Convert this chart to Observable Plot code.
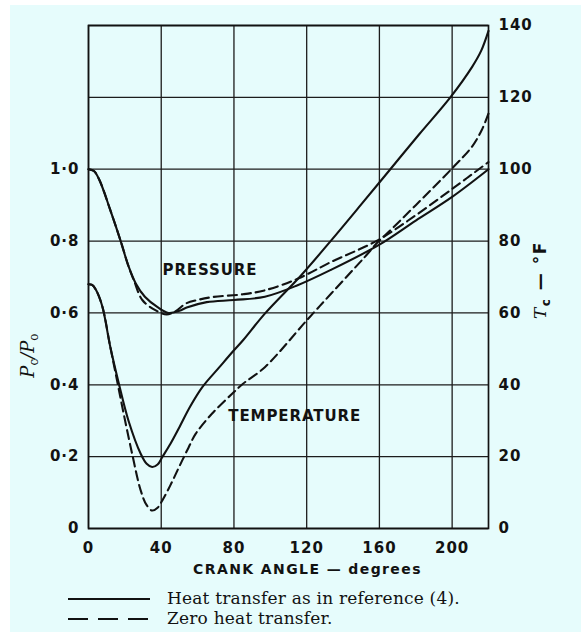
<!DOCTYPE html>
<html><head><meta charset="utf-8">
<script src="https://cdn.jsdelivr.net/npm/d3@7"></script>
<script src="https://cdn.jsdelivr.net/npm/@observablehq/plot@0.6"></script>
<style>
html,body{margin:0;padding:0;background:#ffffff;}
#page{position:absolute;left:10px;top:5px;width:571px;height:627px;background:#e6fcfc;overflow:hidden;}
#legend{position:absolute;left:0;top:580px;}
</style></head>
<body><div id="page"></div>
<script>
// Crank angle ticks (degrees)
const xTicks = [0, 40, 80, 120, 160, 200];
// Left axis: pressure ratio Pc/Po
const leftTicks = [0, 0.2, 0.4, 0.6, 0.8, 1.0];
// Right axis: temperature Tc, °F
const rightTicks = [0, 20, 40, 60, 80, 100, 120, 140];

// PRESSURE — heat transfer as in reference (4)
const pAngHeat = [0, 3, 6, 12, 17.7, 22, 26, 31, 38, 44, 50, 54, 65, 80, 97, 115, 133, 160, 180, 200, 220];
const pHeat    = [1.0, 0.995, 0.97, 0.886, 0.80, 0.73, 0.682, 0.645, 0.616, 0.600, 0.606, 0.615, 0.630, 0.636, 0.645, 0.677, 0.719, 0.790, 0.857, 0.923, 1.0];
// PRESSURE — zero heat transfer
const pAngZero = [0, 3, 6, 12, 17.7, 22, 25, 29.6, 37, 43, 48, 53.5, 60, 68, 85, 97, 115, 133.5, 159, 180, 200, 220];
const pZero    = [1.0, 0.995, 0.97, 0.886, 0.80, 0.73, 0.69, 0.636, 0.607, 0.596, 0.605, 0.626, 0.636, 0.644, 0.652, 0.663, 0.695, 0.742, 0.802, 0.872, 0.945, 1.02];

// TEMPERATURE — heat transfer as in reference (4), °F
const tAngHeat = [0, 2, 4, 7.5, 12, 16.7, 22, 28.7, 32, 35, 38, 40.6, 45, 50, 56, 62.7, 72, 80, 85, 97, 117, 133.5, 150, 166, 182, 199, 211, 216, 220];
const tHeat    = [68, 67.8, 66.5, 62, 50.5, 40.3, 30, 20.8, 18, 17.1, 17.8, 19.9, 23.5, 28.2, 34, 39.4, 44.9, 49.6, 52.4, 59.8, 70.5, 80.2, 90.2, 100, 109.8, 120, 128.5, 133, 138.5];
// TEMPERATURE — zero heat transfer, °F
const tAngZero = [0, 2, 4, 7.5, 12, 15, 18.6, 24, 28.7, 32, 35, 38, 40.6, 45, 49.8, 55, 59, 68, 79, 85, 97, 120, 133.5, 152, 159.3, 165, 180, 200.7, 210.8, 216.3, 220];
const tZero    = [68, 67.8, 66.5, 62, 50.5, 43, 33.8, 20.8, 10.6, 6.5, 5.0, 5.8, 7.8, 12, 17.1, 22.5, 26.4, 32, 37.5, 40.3, 44.9, 57.9, 65.4, 75.6, 79.8, 82.5, 90, 100.6, 106.2, 110.9, 115.5];

// Common vertical scale: right-axis units (°F); pressure ratio × 100 shares it
const rows = [
  ...pAngHeat.map((a, i) => ({angle: a, v: pHeat[i] * 100, q: "pressure", c: "heat"})),
  ...pAngZero.map((a, i) => ({angle: a, v: pZero[i] * 100, q: "pressure", c: "zero"})),
  ...tAngHeat.map((a, i) => ({angle: a, v: tHeat[i], q: "temperature", c: "heat"})),
  ...tAngZero.map((a, i) => ({angle: a, v: tZero[i], q: "temperature", c: "zero"}))
];

const ink = "#121212";
const tickFont = {fontFamily: "DejaVu Sans", fontSize: 15, fontWeight: "bold"};

const plot = Plot.plot({
  width: 571, height: 580,
  marginLeft: 78, marginRight: 93, marginTop: 20, marginBottom: 57,
  style: {background: "transparent", color: ink, fontFamily: "DejaVu Sans", fontSize: "15px", letterSpacing: "1px"},
  x: {domain: [0, 220]},
  y: {domain: [0, 140]},
  marks: [
    Plot.ruleX(xTicks, {stroke: "#1c1c1c", strokeWidth: 1.3}),
    Plot.ruleY(rightTicks, {stroke: "#1c1c1c", strokeWidth: 1.3}),
    Plot.frame({stroke: ink, strokeWidth: 1.7}),
    Plot.axisX(xTicks, {tickSize: 0, tickPadding: 14, label: null, ...tickFont}),
    Plot.axisY(leftTicks.map(d => d * 100), {anchor: "left", tickSize: 0, tickPadding: 9, label: null,
      tickFormat: d => d === 0 ? "0" : (d / 100).toFixed(1).replace(".", "·"), ...tickFont}),
    Plot.axisY(rightTicks, {anchor: "right", tickSize: 0, tickPadding: 10, label: null, ...tickFont}),
    Plot.line(rows.filter(d => d.c === "heat"), {x: "angle", y: "v", z: "q", stroke: ink, strokeWidth: 2.1, curve: "catmull-rom"}),
    Plot.line(rows.filter(d => d.c === "zero"), {x: "angle", y: "v", z: "q", stroke: ink, strokeWidth: 2.1, strokeDasharray: "9,5", curve: "catmull-rom"}),
    Plot.text(["PRESSURE"], {x: 66.8, y: 71.9, fontSize: 15, fontWeight: "bold", fill: ink}),
    Plot.text(["TEMPERATURE"], {x: 113.4, y: 31.2, fontSize: 15, fontWeight: "bold", fill: ink}),
    Plot.text(["CRANK ANGLE — degrees"], {frameAnchor: "bottom", dx: 19, dy: 45, fontSize: 14, fontWeight: "bold", fill: ink})
  ]
});

const svg = d3.select(plot);
svg.selectAll("text").filter(function() { return /PRESSURE|TEMPERATURE/.test(this.textContent); })
  .style("letter-spacing", "0.9px");
svg.selectAll("text").filter(function() { return /CRANK/.test(this.textContent); })
  .style("letter-spacing", "1.4px");

const sx = plot.scale("x"), sy = plot.scale("y");
// left axis title Pc/Po
const lt = svg.append("text")
  .attr("transform", `translate(${sx.apply(0) - 54},${sy.apply(48)}) rotate(-90)`)
  .attr("text-anchor", "middle").attr("font-family", "DejaVu Serif").attr("font-size", 18)
  .attr("font-style", "italic").attr("fill", ink).style("letter-spacing", "0px");
lt.append("tspan").text("P");
lt.append("tspan").attr("dy", 4).attr("font-size", 12).attr("font-style", "normal").text("c");
lt.append("tspan").attr("dy", -4).text("/P");
lt.append("tspan").attr("dy", 4).attr("font-size", 12).attr("font-style", "normal").text("o");
// right axis title Tc — °F
const rt = svg.append("text")
  .attr("transform", `translate(${sx.apply(220) + 58},${sy.apply(69)}) rotate(-90)`)
  .attr("text-anchor", "middle").attr("font-family", "DejaVu Sans").attr("font-size", 17)
  .attr("font-weight", "bold").attr("fill", ink).style("letter-spacing", "1.5px");
rt.append("tspan").attr("font-style", "italic").attr("font-family", "DejaVu Serif").attr("font-weight", "normal").text("T");
rt.append("tspan").attr("dy", 4).attr("font-size", 12).text("c");
rt.append("tspan").attr("dy", -4).text(" — °F");

document.getElementById("page").appendChild(plot);

// Legend below the chart
const legendItems = [
  {label: "Heat transfer as in reference (4).", dash: null},
  {label: "Zero heat transfer.", dash: "20,10"}
];
const lg = d3.select("#page").append("svg").attr("id", "legend").attr("width", 571).attr("height", 47);
legendItems.forEach((it, i) => {
  const y = 14 + i * 20;
  lg.append("line").attr("x1", 58).attr("x2", 140).attr("y1", y).attr("y2", y)
    .attr("stroke", ink).attr("stroke-width", 1.8).attr("stroke-dasharray", it.dash);
  lg.append("text").attr("x", 157).attr("y", y + 4.5).attr("font-family", "DejaVu Serif")
    .attr("font-size", 17).attr("fill", ink).style("letter-spacing", "0.2px").text(it.label);
});
</script>
</body></html>
